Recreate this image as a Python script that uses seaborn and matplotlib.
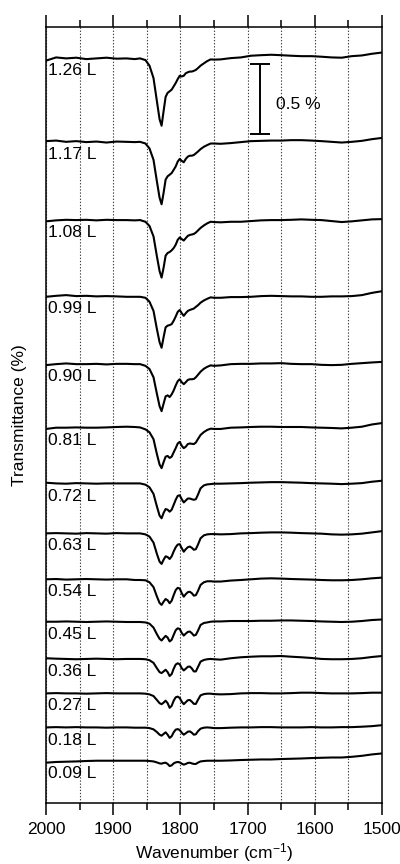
import matplotlib
matplotlib.use("Agg")
import matplotlib.pyplot as plt
from matplotlib.ticker import MultipleLocator
import numpy as np
import pandas as pd
import seaborn as sns

# ---------------- data ----------------
wavenumber = [2000, 1985, 1970, 1955, 1940, 1925, 1910, 1895, 1880, 1868,
              1860, 1852, 1846, 1840, 1835, 1831, 1828, 1825, 1822, 1819,
              1816, 1813, 1810, 1807, 1804, 1801, 1798, 1795, 1792, 1789,
              1786, 1783, 1780, 1777, 1774, 1770, 1765, 1760, 1755, 1750,
              1740, 1725, 1710, 1695, 1680, 1665, 1650, 1635, 1620, 1605,
              1590, 1575, 1560, 1545, 1530, 1515, 1500]

# transmittance change (%) relative to each trace's own baseline
t126 = [-0.016, 0.007, 0.000, 0.005, -0.005, 0.000, 0.005, -0.002, 0.000, -0.005,
        0.000, -0.012, -0.052, -0.141, -0.305, -0.434, -0.481, -0.376, -0.275, -0.246,
        -0.235, -0.223, -0.200, -0.176, -0.148, -0.124, -0.129, -0.124, -0.106, -0.099,
        -0.094, -0.094, -0.089, -0.082, -0.070, -0.052, -0.035, -0.019, -0.007, -0.009,
        -0.007, 0.002, 0.007, 0.019, 0.023, 0.026, 0.023, 0.019, 0.016, 0.016,
        0.012, 0.007, 0.005, 0.016, 0.021, 0.033, 0.042]
t117 = [0.005, 0.009, 0.000, 0.005, -0.002, 0.002, -0.005, 0.002, 0.000, -0.002,
        0.000, -0.012, -0.047, -0.129, -0.282, -0.399, -0.446, -0.364, -0.270, -0.246,
        -0.235, -0.223, -0.200, -0.176, -0.141, -0.122, -0.136, -0.146, -0.122, -0.106,
        -0.099, -0.099, -0.094, -0.082, -0.070, -0.052, -0.035, -0.023, -0.012, -0.012,
        -0.014, -0.009, -0.002, 0.005, 0.007, 0.009, 0.009, 0.012, 0.012, 0.009,
        0.005, 0.000, -0.005, 0.000, 0.007, 0.019, 0.028]
t108 = [-0.009, -0.002, 0.002, 0.000, 0.002, -0.002, 0.002, 0.000, 0.000, -0.002,
        0.000, -0.012, -0.042, -0.117, -0.258, -0.364, -0.411, -0.340, -0.254, -0.235,
        -0.228, -0.216, -0.200, -0.176, -0.141, -0.124, -0.136, -0.146, -0.129, -0.113,
        -0.106, -0.103, -0.099, -0.089, -0.075, -0.056, -0.038, -0.023, -0.012, -0.014,
        -0.016, -0.012, -0.012, -0.007, -0.002, 0.000, 0.000, 0.002, 0.005, 0.002,
        0.000, -0.007, -0.014, -0.009, -0.002, 0.005, 0.007]
t099 = [-0.005, 0.002, 0.007, 0.000, 0.002, -0.002, 0.000, -0.002, -0.005, -0.005,
        -0.005, -0.012, -0.040, -0.106, -0.235, -0.329, -0.369, -0.293, -0.223, -0.211,
        -0.207, -0.200, -0.176, -0.146, -0.113, -0.099, -0.122, -0.141, -0.122, -0.106,
        -0.099, -0.094, -0.089, -0.077, -0.066, -0.047, -0.031, -0.019, -0.009, -0.012,
        -0.012, -0.007, -0.007, -0.005, 0.000, 0.002, 0.000, -0.002, -0.002, -0.005,
        -0.005, -0.002, -0.002, 0.000, 0.007, 0.023, 0.035]
t090 = [-0.007, 0.000, 0.005, 0.000, 0.000, 0.002, -0.002, 0.002, 0.002, 0.000,
        0.000, -0.012, -0.035, -0.094, -0.211, -0.300, -0.336, -0.282, -0.230, -0.223,
        -0.235, -0.216, -0.188, -0.153, -0.122, -0.108, -0.129, -0.143, -0.129, -0.113,
        -0.108, -0.108, -0.106, -0.094, -0.077, -0.054, -0.033, -0.019, -0.009, -0.012,
        -0.009, 0.000, 0.002, 0.002, 0.005, 0.005, 0.007, 0.002, 0.000, 0.000,
        -0.005, -0.007, -0.005, 0.002, 0.007, 0.012, 0.016]
t081 = [-0.009, 0.000, 0.000, 0.002, 0.000, 0.000, 0.002, 0.005, 0.007, 0.005,
        0.002, -0.012, -0.033, -0.082, -0.188, -0.263, -0.289, -0.246, -0.207, -0.202,
        -0.216, -0.207, -0.176, -0.146, -0.113, -0.101, -0.129, -0.146, -0.136, -0.117,
        -0.113, -0.115, -0.117, -0.106, -0.082, -0.052, -0.031, -0.016, -0.007, -0.009,
        -0.009, 0.000, 0.002, 0.005, 0.007, 0.007, 0.005, 0.005, 0.005, 0.002,
        0.000, -0.002, -0.005, 0.000, 0.007, 0.023, 0.033]
t072 = [0.005, 0.000, -0.002, 0.002, 0.000, -0.002, 0.000, 0.000, 0.000, 0.000,
        0.000, -0.009, -0.028, -0.075, -0.164, -0.230, -0.249, -0.211, -0.183, -0.188,
        -0.202, -0.188, -0.153, -0.117, -0.089, -0.085, -0.113, -0.136, -0.122, -0.108,
        -0.108, -0.113, -0.117, -0.113, -0.082, -0.035, -0.014, -0.007, -0.005, -0.002,
        -0.002, 0.000, 0.002, 0.005, 0.007, 0.009, 0.009, 0.007, 0.005, 0.002,
        0.000, -0.002, -0.005, -0.002, 0.002, 0.012, 0.019]
t063 = [0.000, 0.002, 0.000, -0.002, 0.002, 0.000, -0.002, 0.002, 0.000, 0.000,
        0.000, -0.007, -0.023, -0.066, -0.146, -0.202, -0.218, -0.188, -0.164, -0.169,
        -0.183, -0.164, -0.129, -0.099, -0.080, -0.077, -0.106, -0.131, -0.113, -0.099,
        -0.094, -0.103, -0.117, -0.113, -0.082, -0.035, -0.014, -0.007, -0.005, -0.005,
        -0.007, -0.005, 0.000, 0.002, 0.005, 0.007, 0.007, 0.005, 0.002, 0.000,
        -0.002, -0.007, -0.009, -0.007, -0.002, 0.007, 0.016]
t054 = [0.000, 0.002, -0.002, 0.000, 0.002, 0.000, -0.002, 0.000, 0.000, -0.005,
        -0.005, -0.007, -0.021, -0.056, -0.122, -0.169, -0.183, -0.160, -0.141, -0.150,
        -0.171, -0.153, -0.113, -0.077, -0.061, -0.066, -0.099, -0.124, -0.106, -0.092,
        -0.089, -0.099, -0.117, -0.113, -0.085, -0.040, -0.021, -0.014, -0.014, -0.016,
        -0.016, -0.009, -0.005, 0.000, 0.005, 0.007, 0.005, 0.002, 0.000, -0.002,
        -0.005, -0.007, -0.007, -0.005, 0.000, 0.007, 0.012]
t045 = [0.000, 0.000, 0.002, 0.000, -0.002, 0.000, 0.002, 0.000, -0.002, -0.002,
        -0.002, -0.005, -0.014, -0.042, -0.089, -0.122, -0.134, -0.117, -0.101, -0.113,
        -0.141, -0.129, -0.094, -0.061, -0.047, -0.052, -0.080, -0.099, -0.085, -0.073,
        -0.070, -0.082, -0.099, -0.094, -0.066, -0.023, -0.009, -0.005, 0.000, 0.002,
        0.002, 0.005, 0.005, 0.005, 0.007, 0.007, 0.009, 0.009, 0.007, 0.005,
        0.002, 0.000, -0.002, 0.000, 0.005, 0.012, 0.016]
t036 = [0.005, 0.002, 0.000, -0.002, 0.000, 0.002, 0.000, -0.002, 0.000, 0.000,
        0.000, -0.002, -0.009, -0.028, -0.066, -0.094, -0.101, -0.089, -0.077, -0.094,
        -0.122, -0.108, -0.070, -0.040, -0.031, -0.038, -0.066, -0.082, -0.070, -0.056,
        -0.054, -0.068, -0.089, -0.089, -0.059, -0.019, -0.007, -0.002, 0.000, -0.002,
        -0.005, 0.005, 0.012, 0.016, 0.019, 0.019, 0.021, 0.016, 0.012, 0.007,
        0.000, -0.002, -0.002, 0.000, 0.005, 0.014, 0.021]
t027 = [0.000, 0.002, 0.000, 0.000, -0.002, 0.000, 0.002, 0.000, 0.000, 0.000,
        0.000, -0.002, -0.007, -0.019, -0.047, -0.070, -0.077, -0.066, -0.052, -0.070,
        -0.103, -0.089, -0.052, -0.028, -0.023, -0.033, -0.059, -0.077, -0.063, -0.049,
        -0.047, -0.059, -0.075, -0.075, -0.047, -0.014, -0.005, -0.002, -0.002, -0.005,
        -0.007, -0.005, 0.000, 0.002, 0.002, 0.000, 0.000, 0.002, 0.005, 0.005,
        0.002, 0.000, 0.000, 0.000, 0.002, 0.005, 0.005]
t018 = [0.000, 0.002, 0.000, 0.002, 0.000, 0.000, -0.002, 0.000, 0.000, -0.002,
        -0.002, -0.002, -0.005, -0.014, -0.033, -0.052, -0.059, -0.047, -0.035, -0.052,
        -0.075, -0.063, -0.035, -0.016, -0.012, -0.019, -0.038, -0.052, -0.042, -0.031,
        -0.028, -0.038, -0.052, -0.049, -0.028, -0.009, -0.002, 0.000, -0.002, -0.005,
        -0.005, -0.002, 0.000, 0.000, 0.002, 0.002, 0.000, 0.000, 0.000, 0.002,
        0.000, 0.000, 0.002, 0.002, 0.005, 0.009, 0.016]
t009 = [-0.014, -0.009, -0.007, -0.005, -0.002, 0.000, 0.000, 0.000, 0.000, 0.000,
        0.000, 0.000, -0.002, -0.005, -0.012, -0.019, -0.021, -0.016, -0.014, -0.023,
        -0.038, -0.033, -0.019, -0.012, -0.009, -0.012, -0.021, -0.028, -0.023, -0.016,
        -0.014, -0.019, -0.023, -0.023, -0.014, -0.005, -0.002, 0.000, 0.000, 0.000,
        0.000, 0.002, 0.005, 0.007, 0.009, 0.009, 0.012, 0.014, 0.016, 0.019,
        0.021, 0.023, 0.023, 0.028, 0.035, 0.045, 0.052]

labels = ["1.26 L", "1.17 L", "1.08 L", "0.99 L", "0.90 L", "0.81 L", "0.72 L",
          "0.63 L", "0.54 L", "0.45 L", "0.36 L", "0.27 L", "0.18 L", "0.09 L"]
spectra = [t126, t117, t108, t099, t090, t081, t072,
           t063, t054, t045, t036, t027, t018, t009]
# vertical stacking offset of each trace (%)
offsets = [0.000, -0.596, -1.155, -1.698, -2.184, -2.638, -3.036,
           -3.393, -3.721, -4.024, -4.290, -4.536, -4.779, -5.017]

scale_value = 0.5          # scale bar length (%)
scale_bar_wn = 1681        # scale bar position (cm-1)
scale_bar_top = -0.043     # top end of the scale bar (%)

# ---------------- build long table ----------------
rows = []
for lab, vals, off in zip(labels, spectra, offsets):
    assert len(vals) == len(wavenumber)
    for w, v in zip(wavenumber, vals):
        rows.append({"trace": lab, "wn": w, "T": v + off})
df = pd.DataFrame(rows)

# ---------------- style ----------------
sns.set_theme(style="ticks")
plt.rcParams["font.family"] = ["Liberation Sans", "DejaVu Sans"]
plt.rcParams["mathtext.fontset"] = "custom"
plt.rcParams["mathtext.rm"] = "Liberation Sans"
plt.rcParams["mathtext.it"] = "Liberation Sans"
plt.rcParams["text.color"] = "black"
plt.rcParams["axes.labelcolor"] = "black"
plt.rcParams["xtick.color"] = "black"
plt.rcParams["ytick.color"] = "black"

FS = 12.5

fig = plt.figure(figsize=(4.0, 8.64), dpi=100)
ax = fig.add_axes([0.115, 0.0706, 0.84, 0.8981])

sns.lineplot(data=df, x="wn", y="T", units="trace", estimator=None, sort=False,
             color="black", linewidth=1.5, legend=False, ax=ax)

ax.set_xlim(2000, 1500)
ax.set_ylim(-5.319, 0.224)

ax.xaxis.set_major_locator(MultipleLocator(100))
ax.xaxis.set_minor_locator(MultipleLocator(50))
ax.set_yticks([])
ax.tick_params(axis="x", which="both", direction="out", top=True, bottom=True,
               labeltop=False, labelbottom=True, labelsize=FS, colors="black")
ax.tick_params(axis="x", which="major", length=8.5, width=1.1, pad=5.5)
ax.tick_params(axis="x", which="minor", length=5.0, width=1.1)

ax.grid(True, which="both", axis="x", linestyle=(0, (1.2, 1.6)),
        color="0.25", linewidth=0.8)
ax.grid(False, axis="y")

for s in ax.spines.values():
    s.set_visible(True)
    s.set_color("black")
    s.set_linewidth(1.1)

# trace labels
for lab, off in zip(labels, offsets):
    ax.text(1997, off - 0.09, lab, ha="left", va="center", fontsize=FS,
            color="black")

# scale bar
ax.errorbar([scale_bar_wn], [scale_bar_top - scale_value / 2],
            yerr=[scale_value / 2], fmt="none", ecolor="black",
            elinewidth=1.4, capsize=7, capthick=1.4)
ax.text(scale_bar_wn - 23, scale_bar_top - scale_value / 2 - 0.033,
        f"{scale_value} %", ha="left", va="center", fontsize=FS, color="black")

ax.set_xlabel(r"Wavenumber (cm$^{\mathregular{-1}}$)", fontsize=FS)
ax.set_ylabel("Transmittance (%)", fontsize=FS)
ax.xaxis.set_label_coords(0.5, -0.0644)
ax.xaxis.label.set_va("center")
ax.yaxis.set_label_coords(-0.078, 0.5)
ax.yaxis.label.set_va("center")

fig.savefig("out.png", dpi=100)
